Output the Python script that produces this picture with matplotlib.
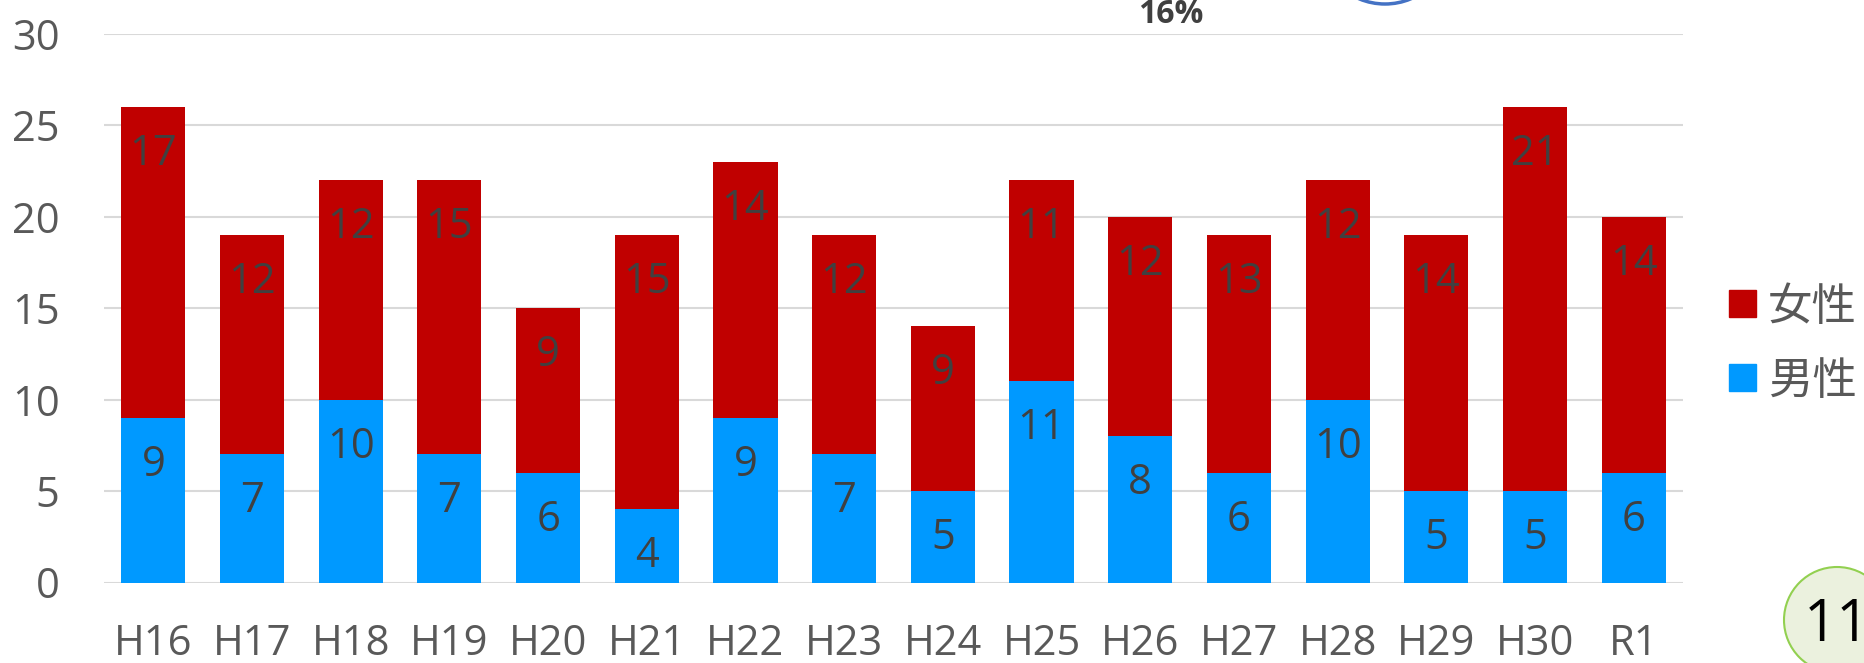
import matplotlib
matplotlib.use("Agg")
import matplotlib.pyplot as plt
from matplotlib.patches import Rectangle, Ellipse

plt.rcParams['font.family'] = ['Open Sans', 'Noto Sans CJK JP', 'DejaVu Sans']

# data
years = ["H16", "H17", "H18", "H19", "H20", "H21", "H22", "H23",
         "H24", "H25", "H26", "H27", "H28", "H29", "H30", "R1"]
male = [9, 7, 10, 7, 6, 4, 9, 7, 5, 11, 8, 6, 10, 5, 5, 6]
female = [17, 12, 12, 15, 9, 15, 14, 12, 9, 11, 12, 13, 12, 14, 21, 14]
series_names = ["女性", "男性"]
yticks = [0, 5, 10, 15, 20, 25, 30]

RED = "#C00000"
BLUE = "#0099FF"
W, H = 1864, 663

fig = plt.figure(figsize=(W / 100, H / 100), dpi=100)
ax = fig.add_axes([104 / W, 80.5 / H, (1683 - 104) / W, (582.5 - 33.7) / H])

x = range(len(years))
bars_m = ax.bar(x, male, width=0.65, color=BLUE, zorder=2)
bars_f = ax.bar(x, female, width=0.65, bottom=male, color=RED, zorder=2)

# labels sit just inside the top of each segment
for bars, vals, bottoms in [(bars_m, male, [0] * len(male)), (bars_f, female, male)]:
    for b, v, bt in zip(bars, vals, bottoms):
        ax.annotate(str(v), (b.get_x() + b.get_width() / 2, bt + v),
                    xytext=(0, -58), textcoords="offset pixels",
                    ha="center", va="baseline", fontsize=30, color="#404040", zorder=3)

ax.set_xlim(-0.5, len(years) - 0.5)
ax.set_ylim(0, 30)
ax.set_yticks(yticks)
ax.set_xticks(list(x))
ax.set_xticklabels(years)
ax.tick_params(axis="y", length=0, labelsize=30, labelcolor="#595959", pad=32)
ax.tick_params(axis="x", length=0, labelsize=30, labelcolor="#595959", pad=29)
for s in ax.spines.values():
    s.set_visible(False)
ax.yaxis.grid(True, color="#D9D9D9", linewidth=1.5)
ax.set_axisbelow(True)

# legend drawn by hand (female on top)
for i, (name, col) in enumerate(zip(series_names, [RED, BLUE])):
    cy = 303.5 + i * 74
    fig.add_artist(Rectangle((1729 / W, 1 - (cy + 13.5) / H), 27 / W, 27 / H,
                             transform=fig.transFigure, color=col))
    fig.text(1768 / W, 1 - cy / H, name, fontsize=32, color="#595959",
             va="center_baseline", ha="left")

# bits of the slide around the chart
fig.text(1171 / W, 1 - 22.7 / H, "16%", fontsize=23, fontweight="bold",
         color="#404040", ha="center", va="baseline")
fig.add_artist(Ellipse((1385 / W, 1 + 63 / H), 134 / W, 134 / H,
                       transform=fig.transFigure, fill=False,
                       edgecolor="#4472C4", linewidth=2.5))
fig.add_artist(Ellipse((1837 / W, 1 - 620 / H), 106 / W, 106 / H,
                       transform=fig.transFigure, facecolor="#EBF1DE",
                       edgecolor="#92D050", linewidth=1.5))
fig.text(1837 / W, 1 - 641 / H, "11", fontsize=42, color="black",
         ha="center", va="baseline")

fig.savefig("out.png", dpi=100)
